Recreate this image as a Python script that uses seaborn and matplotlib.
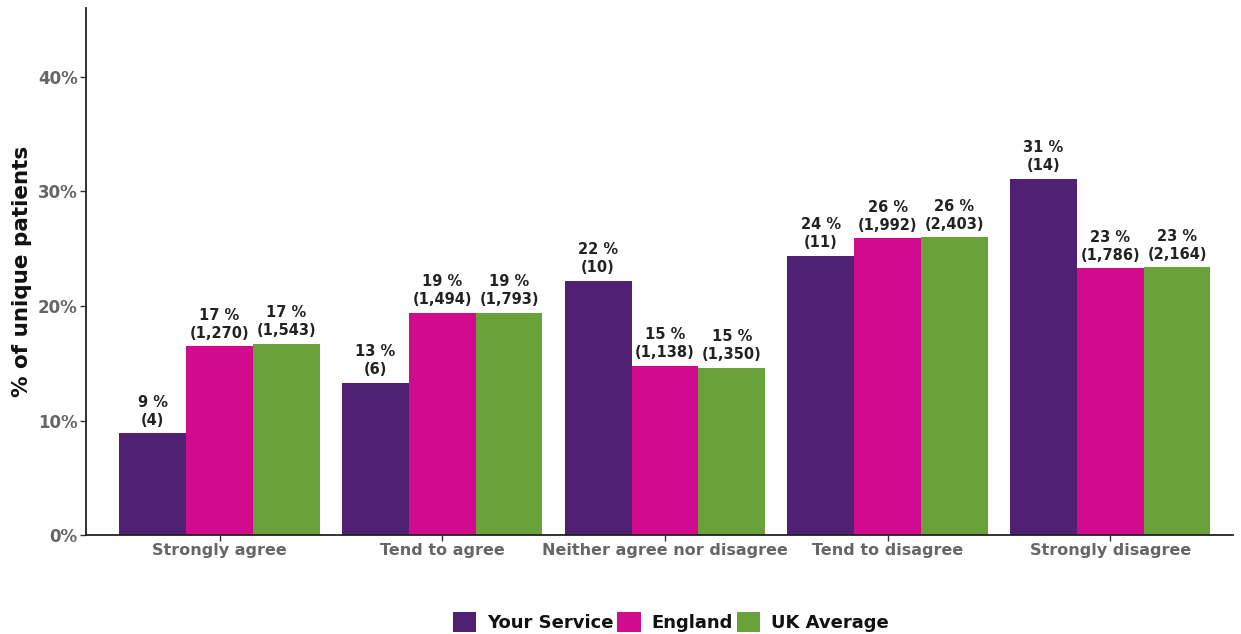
import matplotlib
matplotlib.use("Agg")
import matplotlib.pyplot as plt
from matplotlib.ticker import FuncFormatter
import seaborn as sns
import pandas as pd

# Survey responses
categories = ["Strongly agree", "Tend to agree", "Neither agree nor disagree",
              "Tend to disagree", "Strongly disagree"]
series = ["Your Service", "England", "UK Average"]

your_service_pct = [8.9, 13.3, 22.2, 24.4, 31.1]
england_pct = [16.5, 19.4, 14.8, 25.9, 23.3]
uk_average_pct = [16.7, 19.4, 14.6, 26.0, 23.4]

your_service_n = [4, 6, 10, 11, 14]
england_n = [1270, 1494, 1138, 1992, 1786]
uk_average_n = [1543, 1793, 1350, 2403, 2164]

colors = ["#4f2074", "#d10a8e", "#69a23a"]

pct_by_series = [your_service_pct, england_pct, uk_average_pct]
n_by_series = [your_service_n, england_n, uk_average_n]

rows = []
for s, pcts, ns in zip(series, pct_by_series, n_by_series):
    for c, p, n in zip(categories, pcts, ns):
        rows.append({"category": c, "series": s, "pct": p, "n": n})
df = pd.DataFrame(rows)

sns.set_theme(style="white")
plt.rcParams["font.family"] = ["DejaVu Sans"]

fig = plt.figure(figsize=(12.41, 6.34), dpi=100)
ax = fig.add_axes([0.0693, 0.156, 0.924, 0.831])

sns.barplot(data=df, x="category", y="pct", hue="series", order=categories,
            hue_order=series, palette=colors, width=0.9, saturation=1,
            edgecolor="none", ax=ax, errorbar=None)


def half_up(v):
    return int(v + 0.5)


# value labels above each bar
for container, pcts, ns in zip(ax.containers, pct_by_series, n_by_series):
    labels = [f"{half_up(p):d} %\n({n:,})" for p, n in zip(pcts, ns)]
    ax.bar_label(container, labels=labels, padding=4, fontsize=10.5,
                 fontweight="bold", color="#222222", linespacing=1.25)

ax.set_ylim(0, 46)
ax.set_xlim(-0.6, 4.55)
ax.set_yticks([0, 10, 20, 30, 40])
ax.yaxis.set_major_formatter(FuncFormatter(lambda v, _: f"{v:.0f}%"))
ax.set_xlabel("")
ax.set_ylabel("% of unique patients", fontsize=15.5, fontweight="bold",
              color="#111111", labelpad=4)

for lab in ax.get_xticklabels() + ax.get_yticklabels():
    lab.set_fontweight("bold")
    lab.set_color("#666666")
ax.tick_params(axis="x", labelsize=11.5, length=4, width=1, color="#333333",
               direction="out", bottom=True, pad=2)
ax.tick_params(axis="y", labelsize=12, length=4, width=1, color="#333333",
               direction="out", left=True, pad=2)

for side in ["top", "right"]:
    ax.spines[side].set_visible(False)
for side in ["left", "bottom"]:
    ax.spines[side].set_color("#222222")
    ax.spines[side].set_linewidth(1.3)

sns.move_legend(ax, "lower center", bbox_to_anchor=(0.51, -0.215), ncol=3,
                frameon=False, title=None, fontsize=13,
                handlelength=1.3, handleheight=1.3, handletextpad=0.6,
                columnspacing=0.2)
for t in ax.get_legend().get_texts():
    t.set_fontweight("bold")
    t.set_color("#111111")

fig.savefig("out.png", dpi=100)
